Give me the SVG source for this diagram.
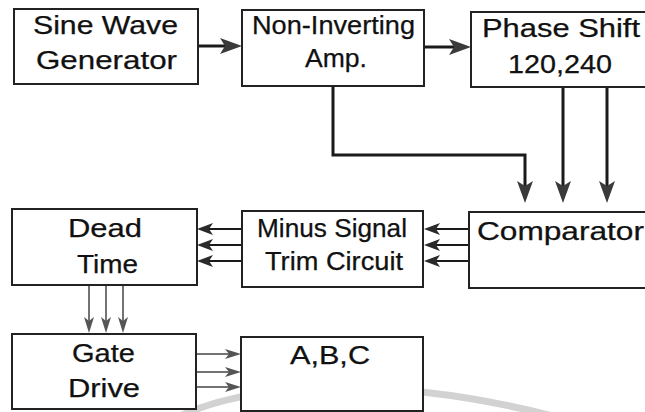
<svg xmlns="http://www.w3.org/2000/svg" width="645" height="412" viewBox="0 0 645 412">
<defs>
<style>
.box{fill:#fff;stroke:#222;stroke-width:2}
.lbl{font-family:"Liberation Sans",Arial,sans-serif;font-size:25px;fill:#111;stroke:#111;stroke-width:0.25}
.thick{fill:none;stroke:#1a1a1a;stroke-width:3}
.med{fill:none;stroke:#1a1a1a;stroke-width:2}
.thin{fill:none;stroke:#444;stroke-width:1.5}
</style>
<marker id="ah-big" markerUnits="userSpaceOnUse" markerWidth="22" markerHeight="16" refX="5" refY="8" orient="auto">
<path d="M0,0 L22,8 L0,16 L5,8 z" fill="#3a3a3a"/>
</marker>
<marker id="ah-med" markerUnits="userSpaceOnUse" markerWidth="16" markerHeight="12" refX="4" refY="6" orient="auto">
<path d="M0,0 L16,6 L0,12 L4,6 z" fill="#2a2a2a"/>
</marker>
<marker id="ah-small" markerUnits="userSpaceOnUse" markerWidth="16" markerHeight="10" refX="4" refY="5" orient="auto">
<path d="M0,0 L16,5 L0,10 L4,5 z" fill="#555"/>
</marker>
</defs>
<rect width="645" height="412" fill="#fff"/>
<path d="M180,416 C262,378 410,378 560,418" fill="none" stroke="#d2d2d2" stroke-width="7"/>

<g id="connectors">
<path class="thick" d="M198,46 H225" marker-end="url(#ah-big)"/>
<path class="thick" d="M424,47 H454" marker-end="url(#ah-big)"/>
<path class="thick" d="M333,86 V155 H525 V186" marker-end="url(#ah-big)"/>
<path class="thick" d="M563,87 V186" marker-end="url(#ah-big)"/>
<path class="thick" d="M607,87 V186" marker-end="url(#ah-big)"/>
<path class="med" d="M469,229 H436" marker-end="url(#ah-med)"/>
<path class="med" d="M469,245 H436" marker-end="url(#ah-med)"/>
<path class="med" d="M469,261 H436" marker-end="url(#ah-med)"/>
<path class="med" d="M242,229 H209" marker-end="url(#ah-med)"/>
<path class="med" d="M242,245 H209" marker-end="url(#ah-med)"/>
<path class="med" d="M242,261 H209" marker-end="url(#ah-med)"/>
<path class="thin" d="M89,285 V321" marker-end="url(#ah-small)"/>
<path class="thin" d="M106,285 V321" marker-end="url(#ah-small)"/>
<path class="thin" d="M123,285 V321" marker-end="url(#ah-small)"/>
<path class="thin" d="M196,354 H229" marker-end="url(#ah-small)"/>
<path class="thin" d="M196,372 H229" marker-end="url(#ah-small)"/>
<path class="thin" d="M196,387 H229" marker-end="url(#ah-small)"/>
</g>

<g id="sine-wave-generator">
<rect class="box" x="14" y="9" width="184" height="75"/>
<text class="lbl" x="33" y="34" textLength="145" lengthAdjust="spacingAndGlyphs">Sine Wave</text>
<text class="lbl" x="36" y="69" textLength="141" lengthAdjust="spacingAndGlyphs">Generator</text>
</g>
<g id="non-inverting-amp">
<rect class="box" x="242" y="10" width="182" height="76"/>
<text class="lbl" x="252" y="34" textLength="163" lengthAdjust="spacingAndGlyphs">Non-Inverting</text>
<text class="lbl" x="305" y="67" textLength="62" lengthAdjust="spacingAndGlyphs">Amp.</text>
</g>
<g id="phase-shift">
<rect class="box" x="471" y="12" width="190" height="75"/>
<text class="lbl" x="482" y="37" textLength="158" lengthAdjust="spacingAndGlyphs">Phase Shift</text>
<text class="lbl" x="508" y="73" textLength="104" lengthAdjust="spacingAndGlyphs">120,240</text>
</g>
<g id="comparator">
<rect class="box" x="469" y="212" width="190" height="76"/>
<text class="lbl" x="477" y="240" textLength="167" lengthAdjust="spacingAndGlyphs">Comparator</text>
</g>
<g id="minus-signal-trim">
<rect class="box" x="242" y="211" width="181" height="76"/>
<text class="lbl" x="257" y="237" textLength="150" lengthAdjust="spacingAndGlyphs">Minus Signal</text>
<text class="lbl" x="265" y="270" textLength="138" lengthAdjust="spacingAndGlyphs">Trim Circuit</text>
</g>
<g id="dead-time">
<rect class="box" x="12" y="209" width="185" height="76"/>
<text class="lbl" x="68" y="237" textLength="74" lengthAdjust="spacingAndGlyphs">Dead</text>
<text class="lbl" x="77" y="273" textLength="61" lengthAdjust="spacingAndGlyphs">Time</text>
</g>
<g id="gate-drive">
<rect class="box" x="12" y="334" width="184" height="75"/>
<text class="lbl" x="72" y="362" textLength="63" lengthAdjust="spacingAndGlyphs">Gate</text>
<text class="lbl" x="68" y="397" textLength="72" lengthAdjust="spacingAndGlyphs">Drive</text>
</g>
<g id="abc">
<rect class="box" x="241" y="337" width="182" height="74"/>
<text class="lbl" x="290" y="364" textLength="80" lengthAdjust="spacingAndGlyphs">A,B,C</text>
</g>
</svg>
